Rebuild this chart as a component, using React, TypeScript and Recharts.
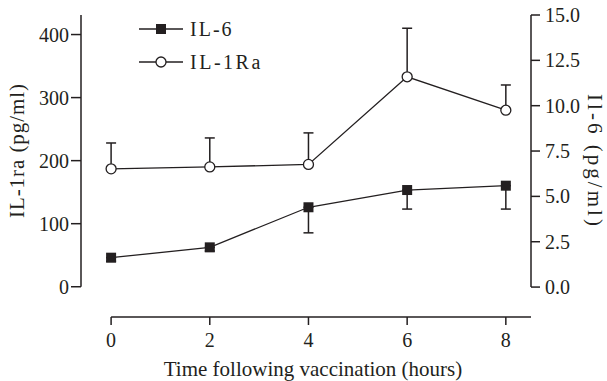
import { LineChart, Line, XAxis, YAxis, ErrorBar, ReferenceLine, Legend } from 'recharts';

// Cytokine levels after vaccination
const hours = [0, 2, 4, 6, 8];
const il1ra = [187, 190, 194, 333, 280];
const il1raSem = [41, 46, 50, 77, 40];
const il6 = [1.62, 2.19, 4.4, 5.35, 5.59];
const il6Sem = [0.2, 0.2, 1.41, 1.05, 1.29];

const leftTicks = [0, 100, 200, 300, 400];
const rightTicks = [0, 2.5, 5, 7.5, 10, 12.5, 15];

// axis ranges (the axes are drawn offset from the data, Prism style)
const X_MIN = -0.61;
const X_MAX = 8.51;
const LEFT_MIN = -48;
const LEFT_MAX = 431;
const RIGHT_MIN = -1.65;
const RIGHT_MAX = 15;

const INK = '#231f20';
const FONT = '"Liberation Serif", "Times New Roman", serif';

const rows = hours.map((h, i) => ({
  hour: h,
  il1ra: il1ra[i],
  il1raErr: [0, il1raSem[i]],
  il6: il6[i],
  il6Err: [il6Sem[i], 0],
}));

const tickStyle = { fill: INK, fontSize: 20, fontFamily: FONT };

function renderSquare(p: any) {
  if (p.cx == null || p.cy == null) return <g key={`sq-${p.index}`} />;
  return <rect key={`sq-${p.index}`} x={p.cx - 5} y={p.cy - 5} width={10} height={10} fill={INK} />;
}

function LegendBox() {
  return (
    <svg width={300} height={80} style={{ overflow: 'visible' }}>
      <g stroke={INK} strokeWidth={1.3}>
        <line x1={139} x2={183} y1={29} y2={29} />
        <line x1={139} x2={183} y1={62} y2={62} />
      </g>
      <rect x={156} y={24} width={10} height={10} fill={INK} />
      <circle cx={161} cy={62} r={5} fill="#fff" stroke={INK} strokeWidth={1.3} />
      <text x={190} y={36} fill={INK} fontSize={20} fontFamily={FONT} letterSpacing={2}>IL-6</text>
      <text x={190} y={69} fill={INK} fontSize={20} fontFamily={FONT} letterSpacing={2.5}>IL-1Ra</text>
    </svg>
  );
}

export default function App() {
  return (
    <div style={{ position: 'absolute', left: 0, top: 0, background: '#fff' }}>
      <LineChart width={607} height={381} data={rows} margin={{ top: 15, right: 6, bottom: 0, left: 11 }}>
        <XAxis
          type="number"
          dataKey="hour"
          domain={[X_MIN, X_MAX]}
          ticks={hours}
          allowDataOverflow
          height={64}
          axisLine={false}
          tickLine={{ stroke: INK, strokeWidth: 1.5 }}
          tickSize={8}
          tickMargin={8}
          tick={tickStyle}
          label={{
            content: ({ viewBox }: any) => (
              <text
                x={viewBox.x + viewBox.width / 2 + 7}
                y={viewBox.y + viewBox.height - 5}
                textAnchor="middle"
                fill={INK}
                fontSize={21}
                fontFamily={FONT}
              >
                Time following vaccination (hours)
              </text>
            ),
          }}
        />
        <YAxis
          yAxisId="left"
          domain={[LEFT_MIN, LEFT_MAX]}
          ticks={leftTicks}
          allowDataOverflow
          width={70}
          axisLine={false}
          tickLine={{ stroke: INK, strokeWidth: 1.5 }}
          tickSize={10}
          tickMargin={2}
          tick={tickStyle}
          label={{
            content: ({ viewBox }: any) => (
              <text
                transform={`translate(${viewBox.x + 13}, 151) rotate(-90)`}
                textAnchor="middle"
                fill={INK}
                fontSize={21}
                fontFamily={FONT}
                textLength={134}
              >
                IL-1ra (pg/ml)
              </text>
            ),
          }}
        />
        <YAxis
          yAxisId="right"
          orientation="right"
          domain={[RIGHT_MIN, RIGHT_MAX]}
          ticks={rightTicks}
          allowDataOverflow
          width={70}
          axisLine={false}
          tickLine={{ stroke: INK, strokeWidth: 1.5 }}
          tickSize={9}
          tickMargin={5}
          tick={tickStyle}
          tickFormatter={(v: number) => v.toFixed(1)}
          label={{
            content: ({ viewBox }: any) => (
              <text
                transform={`translate(${viewBox.x + 57}, 160) rotate(90)`}
                textAnchor="middle"
                fill={INK}
                fontSize={21}
                fontFamily={FONT}
                textLength={132}
              >
                Il-6 (pg/ml)
              </text>
            ),
          }}
        />

        {/* axis lines */}
        <ReferenceLine
          yAxisId="left"
          segment={[{ x: X_MIN, y: 0 }, { x: X_MIN, y: LEFT_MAX }]}
          stroke={INK}
          strokeWidth={1.5}
          ifOverflow="visible"
        />
        <ReferenceLine
          yAxisId="right"
          segment={[{ x: X_MAX, y: 0 }, { x: X_MAX, y: RIGHT_MAX }]}
          stroke={INK}
          strokeWidth={1.5}
          ifOverflow="visible"
        />
        <ReferenceLine
          yAxisId="left"
          segment={[{ x: 0, y: LEFT_MIN }, { x: X_MAX, y: LEFT_MIN }]}
          stroke={INK}
          strokeWidth={1.5}
          ifOverflow="visible"
        />

        <Line
          yAxisId="left"
          dataKey="il1ra"
          stroke={INK}
          strokeWidth={1.3}
          dot={{ r: 5, fill: '#fff', stroke: INK, strokeWidth: 1.3 }}
          isAnimationActive={false}
        >
          <ErrorBar dataKey="il1raErr" direction="y" width={5} stroke={INK} strokeWidth={1.5} />
        </Line>
        <Line
          yAxisId="right"
          dataKey="il6"
          stroke={INK}
          strokeWidth={1.3}
          dot={(p: any) => renderSquare(p)}
          isAnimationActive={false}
        >
          <ErrorBar dataKey="il6Err" direction="y" width={5} stroke={INK} strokeWidth={1.5} />
        </Line>

        <Legend
          layout="vertical"
          align="center"
          verticalAlign="middle"
          wrapperStyle={{ left: 0, top: 0, width: 300, height: 80 }}
          content={() => <LegendBox />}
        />
      </LineChart>
    </div>
  );
}
